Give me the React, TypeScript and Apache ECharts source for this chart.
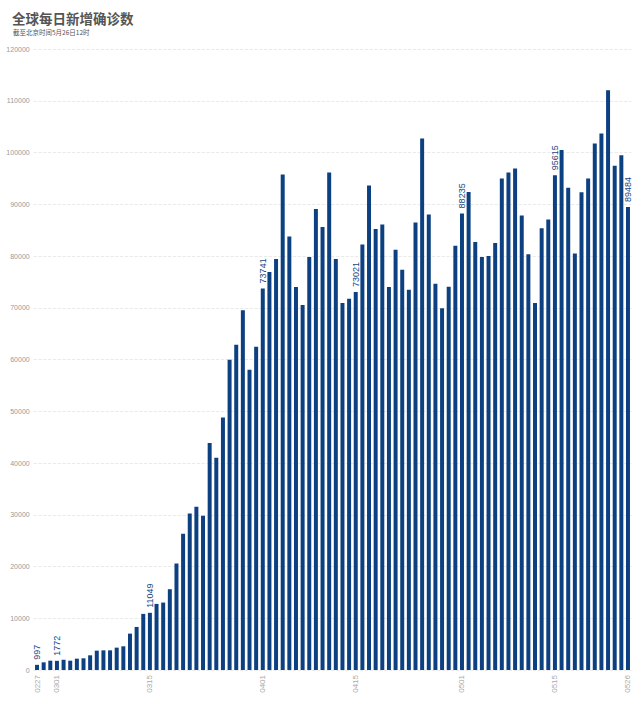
import React, { useEffect, useRef } from "react";
import * as echarts from "echarts";

const titleText = "全球每日新增确诊数";
const subtitleText = "截至北京时间5月26日12时";

const categories = [
  "0227", "0228", "0229",
  "0301", "0302", "0303", "0304", "0305", "0306", "0307", "0308", "0309", "0310",
  "0311", "0312", "0313", "0314", "0315", "0316", "0317", "0318", "0319", "0320",
  "0321", "0322", "0323", "0324", "0325", "0326", "0327", "0328", "0329", "0330", "0331",
  "0401", "0402", "0403", "0404", "0405", "0406", "0407", "0408", "0409", "0410",
  "0411", "0412", "0413", "0414", "0415", "0416", "0417", "0418", "0419", "0420",
  "0421", "0422", "0423", "0424", "0425", "0426", "0427", "0428", "0429", "0430",
  "0501", "0502", "0503", "0504", "0505", "0506", "0507", "0508", "0509", "0510",
  "0511", "0512", "0513", "0514", "0515", "0516", "0517", "0518", "0519", "0520",
  "0521", "0522", "0523", "0524", "0525", "0526",
];

const dailyNew = [
  997, 1480, 1800,
  1772, 2000, 1800, 2190, 2260, 2840, 3740, 3800, 3800, 4320,
  4580, 7030, 8320, 10840, 11049, 12770, 13030, 15610, 20580, 26320,
  30260, 31550, 29810, 43870, 41030, 48770, 59940, 62840, 69500, 58000, 62450,
  73741, 76910, 79420, 95750, 83750, 74000, 70520, 79810, 89100, 85620,
  96140, 79420, 70910, 71750, 73021, 82200, 93620, 85230, 86070, 74000,
  81230, 77360, 73490, 86460, 102720, 88000, 74650, 69880, 74070, 82000,
  88235, 92390, 82710, 79810, 80000, 82520, 94970, 96140, 96910, 87810,
  80330, 70910, 85360, 87040, 95615, 100460, 93170, 80460, 92330, 94970,
  101750, 103680, 112010, 97430, 99490, 89484,
];

const labeledDates = ["0227", "0301", "0315", "0401", "0415", "0501", "0515", "0526"];

const yMax = 120000;
const yStep = 10000;

export default function App() {
  const ref = useRef<HTMLDivElement>(null);

  useEffect(() => {
    if (!ref.current) return;
    const chart = echarts.init(ref.current, undefined, { renderer: "svg" });
    const data = dailyNew.map((v, i) =>
      labeledDates.includes(categories[i])
        ? { value: v, label: { show: true } }
        : v
    );
    chart.setOption({
      animation: false,
      backgroundColor: "#ffffff",
      title: [
        {
          text: titleText,
          left: 7,
          top: 6,
          textStyle: {
            fontFamily: "Noto Sans CJK SC",
            fontSize: 13.5,
            fontWeight: "bold",
            color: "#555555",
          },
        },
        {
          text: subtitleText,
          left: 8,
          top: 24,
          textStyle: {
            fontFamily: "Noto Sans CJK SC",
            fontSize: 6.5,
            fontWeight: "normal",
            color: "#555555",
          },
        },
      ],
      grid: {
        left: 33.7,
        right: 8.7,
        top: 49,
        bottom: 38,
        containLabel: false,
      },
      xAxis: {
        type: "category",
        data: categories,
        axisLine: { show: false },
        axisTick: { show: false },
        axisLabel: {
          interval: (index: number, value: string) => labeledDates.includes(value),
          rotate: 90,
          margin: 5,
          fontSize: 8,
          color: "#aaaaaa",
          fontFamily: "Liberation Sans",
        },
      },
      yAxis: {
        type: "value",
        min: 0,
        max: yMax,
        interval: yStep,
        axisLine: { show: false },
        axisTick: { show: false },
        axisLabel: {
          fontSize: 7,
          color: "#999999",
          margin: 4,
          fontFamily: "Liberation Sans",
          formatter: (v: number) => String(v),
        },
        splitLine: {
          show: true,
          lineStyle: { color: "#e4e4e4", type: "dashed", width: 0.8 },
        },
      },
      series: [
        {
          type: "bar",
          data,
          barWidth: "60%",
          itemStyle: { color: "#0c4081" },
          label: {
            show: false,
            position: "top",
            rotate: 90,
            align: "left",
            verticalAlign: "middle",
            distance: 5,
            fontSize: 9,
            color: "#174683",
            fontFamily: "Liberation Sans",
          },
        },
      ],
    });
    return () => chart.dispose();
  }, []);

  return (
    <div
      ref={ref}
      style={{ position: "absolute", left: 0, top: 0, width: 640, height: 708 }}
    />
  );
}
